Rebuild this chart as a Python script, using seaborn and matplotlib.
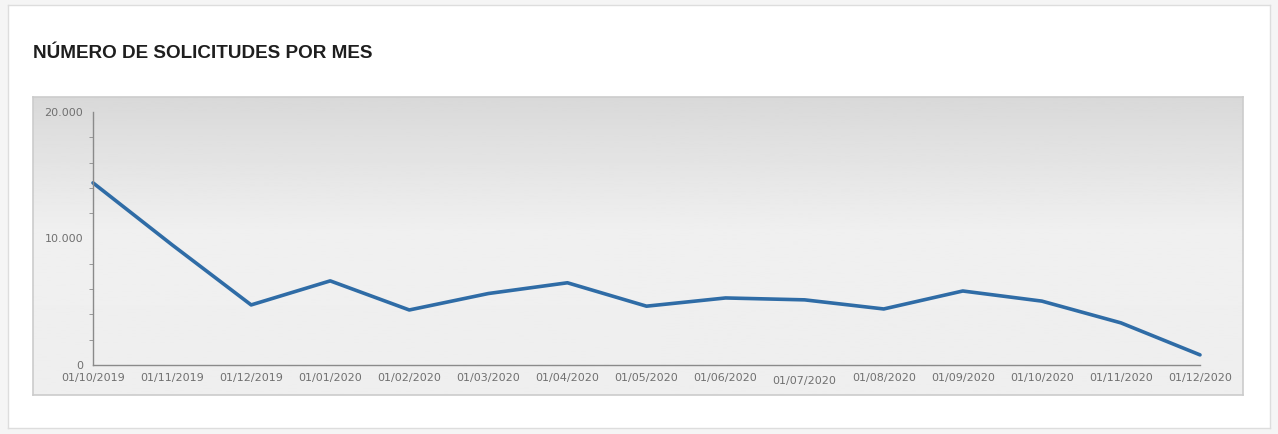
import numpy as np
import pandas as pd
import matplotlib
matplotlib.use("Agg")
import matplotlib.pyplot as plt
import seaborn as sns
from matplotlib.patches import Rectangle
from matplotlib.ticker import FuncFormatter, MultipleLocator

# -----------------------------
# Data
# -----------------------------

meses = [
    "01/10/2019", "01/11/2019", "01/12/2019", "01/01/2020", "01/02/2020",
    "01/03/2020", "01/04/2020", "01/05/2020", "01/06/2020", "01/07/2020",
    "01/08/2020", "01/09/2020", "01/10/2020", "01/11/2020", "01/12/2020",
]
solicitudes = [
    14400, 9500, 4750, 6650, 4350,
    5650, 6500, 4650, 5300, 5150,
    4430, 5850, 5050, 3330, 800,
]

data = pd.DataFrame({"pos": range(len(meses)), "Mes": meses, "Solicitudes": solicitudes})

# -----------------------------
# Figure + background card
# -----------------------------

sns.set_style("white")
plt.rcParams["font.family"] = ["DejaVu Sans"]

W, H = 1278, 434
fig = plt.figure(figsize=(W / 100, H / 100), dpi=100)
fig.patch.set_facecolor("#f5f5f5")

# white card, as its own background axes so it stays below the panel
card = fig.add_axes([8 / W, 1 - 428 / H, (1270 - 8) / W, (428 - 5) / H], zorder=-2)
card.set_facecolor("white")
card.set_xticks([])
card.set_yticks([])
for s in card.spines.values():
    s.set_color("#dddddd")
    s.set_linewidth(1)

fig.text(33 / W, 1 - 53 / H, "NÚMERO DE SOLICITUDES POR MES",
         fontsize=13.6, fontweight="bold", color="#1e1e1e",
         family=["Liberation Sans", "DejaVu Sans"], va="center", ha="left")

# gray gradient panel behind the chart
panel = fig.add_axes([33 / W, 1 - 395 / H, (1243 - 33) / W, (395 - 97) / H], zorder=-1)
t = np.linspace(0, 1, 200)
shade = np.where(t < 0.45, 0.85 + (0.94 - 0.85) * (t / 0.45), 0.94 - 0.01 * (t - 0.45))
panel.imshow(shade[:, None], cmap="gray", vmin=0, vmax=1, aspect="auto",
             extent=[0, 1, 0, 1], origin="upper")
panel.set_xlim(0, 1)
panel.set_ylim(0, 1)
panel.set_xticks([])
panel.set_yticks([])
for s in panel.spines.values():
    s.set_color("#cccccc")
    s.set_linewidth(1.2)

# -----------------------------
# Line chart
# -----------------------------

ax = fig.add_axes([93 / W, 1 - 365 / H, (1200 - 93) / W, (365 - 112) / H], zorder=1)
ax.patch.set_alpha(0)

sns.lineplot(data=data, x="pos", y="Solicitudes", ax=ax, color="#2f6ca6",
             linewidth=2.6, clip_on=False)

ax.set_xlim(0, len(meses) - 1)
ax.set_ylim(0, 20000)
ax.set_xlabel("")
ax.set_ylabel("")

ax.set_xticks(data["pos"])
ax.set_xticklabels(meses)
ax.yaxis.set_major_locator(MultipleLocator(10000))
ax.yaxis.set_minor_locator(MultipleLocator(2000))
ax.yaxis.set_major_formatter(FuncFormatter(lambda v, p: f"{int(v):,}".replace(",", ".")))

for side in ["top", "right"]:
    ax.spines[side].set_visible(False)
for side in ["left", "bottom"]:
    ax.spines[side].set_color("#8a8a8a")
    ax.spines[side].set_linewidth(1)

ax.tick_params(axis="x", direction="in", length=4, color="#8a8a8a", pad=6,
               labelsize=8, labelcolor="#707070")
ax.tick_params(axis="y", which="major", direction="out", length=5, color="#8a8a8a",
               pad=2, labelsize=8, labelcolor="#707070")
ax.tick_params(axis="y", which="minor", direction="out", length=3, color="#8a8a8a", left=True)

# the July label sits lower than the rest
ax.get_xticklabels()[9].set_y(-0.012)

plt.savefig("out.png", dpi=100, facecolor=fig.get_facecolor())
